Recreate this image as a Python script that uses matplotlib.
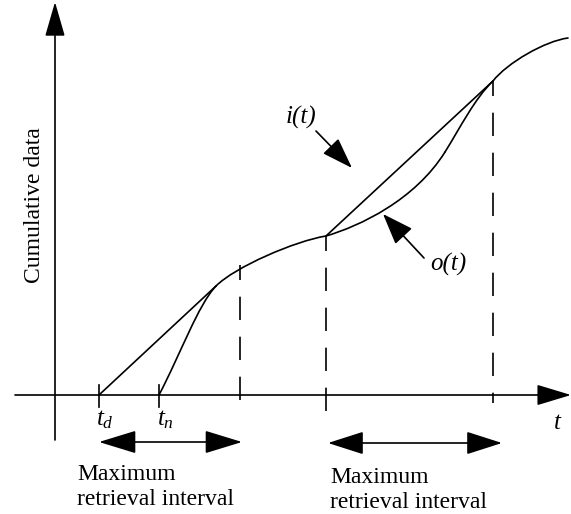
import matplotlib
matplotlib.use("Agg")
import matplotlib.pyplot as plt
from matplotlib.patches import PathPatch, FancyArrowPatch
from matplotlib.path import Path

plt.rcParams['font.family'] = ['Liberation Serif', 'DejaVu Serif']
plt.rcParams['mathtext.fontset'] = 'custom'
plt.rcParams['mathtext.rm'] = 'Liberation Serif'
plt.rcParams['mathtext.it'] = 'Liberation Serif:italic'

# schematic coordinates: origin where the two axes cross
t_d = 44
t_n = 104
interval_ends = [185, 271, 438]          # dashed verticals
interval_tops = [130, 159, 314]          # where they meet the curve
interval_bottoms = [-15, -20, -8]

# straight input segments i(t)
input_line_1 = [(t_d, 0), (161, 109)]
input_line_2 = [(271, 159), (438, 314)]

# cubic bezier control points of the output / shared curve
output_rise_1 = [(t_n, 0), (126, 42), (143, 90), (161, 109)]
shared_1 = [(161, 109), (180, 128), (240, 154), (271, 159)]
output_rise_2a = [(271, 159), (305, 169), (360, 195), (390, 243)]
output_rise_2b = [(390, 243), (405, 267), (420, 297), (438, 314)]
shared_2 = [(438, 314), (452, 332), (490, 354), (513, 357)]

interval_text = ['Maximum', 'retrieval interval']

LW = 1.2


def bezier(ax, pts):
    codes = [Path.MOVETO, Path.CURVE4, Path.CURVE4, Path.CURVE4]
    ax.add_patch(PathPatch(Path(pts, codes), fill=False, lw=LW, color='black',
                           capstyle='round'))


def arrow(ax, start, end, style, hl, hw):
    ax.add_patch(FancyArrowPatch(start, end, arrowstyle=f'{style},head_length={hl},head_width={hw}',
                                 mutation_scale=1, lw=LW, color='black',
                                 shrinkA=0, shrinkB=0))


fig = plt.figure(figsize=(5.71, 5.14), dpi=100)
ax = fig.add_axes([0, 0, 1, 1])
ax.set_xlim(-55, 516)
ax.set_ylim(-119, 395)
ax.axis('off')

# axes with arrow heads
arrow(ax, (0, -45), (0, 393), '-|>', 21.5, 6.2)
arrow(ax, (-40, 0), (516, 0), '-|>', 21.5, 6.5)

# tick marks for t_d and t_n
for tx in [t_d, t_n]:
    ax.plot([tx, tx], [10, -12], color='black', lw=LW)

# curves
for seg in [input_line_1, input_line_2]:
    xs, ys = zip(*seg)
    ax.plot(xs, ys, color='black', lw=LW, solid_capstyle='round')
for seg in [output_rise_1, shared_1, output_rise_2a, output_rise_2b, shared_2]:
    bezier(ax, seg)

# dashed interval markers
for x, top, bot in zip(interval_ends, interval_tops, interval_bottoms):
    ax.plot([x, x], [top, bot], color='black', lw=LW, linestyle=(5, (14, 10)))

# labels and pointer arrows
arrow(ax, (261, 264), (297, 227), '-|>', 19.5, 6.7)
arrow(ax, (369, 137), (328, 181), '-|>', 19.5, 7.2)
ax.text(246, 277.5, 'i(t)', style='italic', fontsize=18, ha='center', va='center')
ax.text(393, 131, 'o(t)', style='italic', fontsize=18, ha='center', va='center')
ax.text(502, -28, 't', style='italic', fontsize=18, ha='center', va='center')
ax.text(41, -30, r'$t_d$', fontsize=18, ha='left', va='baseline')
ax.text(102, -30, r'$t_n$', fontsize=18, ha='left', va='baseline')
ax.text(-20, 190, 'Cumulative data', rotation=90, fontsize=17, ha='center', va='center')

# maximum retrieval interval arrows
arrow(ax, (t_d, -47), (187, -47), '<|-|>', 23.5, 7.2)
arrow(ax, (273, -48), (447, -48), '<|-|>', 22.5, 7.2)
for x0, y0 in [(22, -85), (275, -88)]:
    for k, line in enumerate(interval_text):
        ax.text(x0, y0 - 25 * k, line, fontsize=17, ha='left', va='baseline')

fig.savefig('out.png', dpi=100)
